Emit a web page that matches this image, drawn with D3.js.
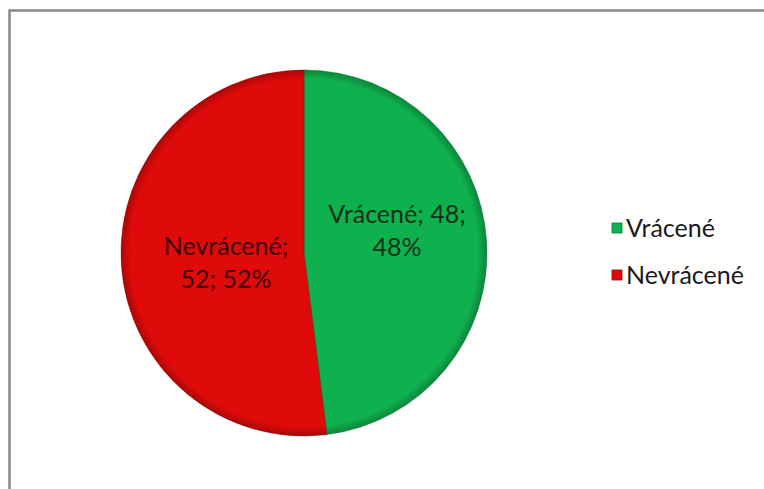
<!DOCTYPE html>
<html><head><meta charset="utf-8">
<script src="https://cdn.jsdelivr.net/npm/d3@7"></script>
<style>html,body{margin:0;background:#fff;overflow:hidden}svg{display:block}</style>
</head><body>
<svg id="c" width="764" height="489"></svg>
<script>
const categories = ["Vrácené", "Nevrácené"];
const values = [48, 52];
const percents = ["48%", "52%"];
const colors = ["#0FB14F", "#DF0A0A"];
const darkColors = ["#07803A", "#9A0000"];

const svg = d3.select("#c");
svg.append("path").attr("d", "M9.5,489V10.5H764")
  .attr("fill", "none").attr("stroke", "#878787").attr("stroke-width", 2.5);

const defs = svg.append("defs");
const cx = 304, cy = 253, r = 183;
const pie = d3.pie().sort(null).value(d => d)(values);
const arc = d3.arc().innerRadius(0).outerRadius(r);
const g = svg.append("g").attr("transform", `translate(${cx},${cy})`);

g.selectAll("path.s").data(pie).join("path").attr("class", "s")
  .attr("d", arc)
  .attr("fill", (d, i) => colors[i]);
const og = defs.append("radialGradient").attr("id", "edge").attr("gradientUnits", "userSpaceOnUse")
  .attr("cx", 0).attr("cy", 0).attr("r", r);
og.append("stop").attr("offset", "0%").attr("stop-color", "#000").attr("stop-opacity", 0);
og.append("stop").attr("offset", "95%").attr("stop-color", "#000").attr("stop-opacity", 0);
og.append("stop").attr("offset", "100%").attr("stop-color", "#000").attr("stop-opacity", 0.25);
g.append("circle").attr("r", r).attr("fill", "url(#edge)");
g.selectAll("path.b").data(pie).join("path").attr("class", "b")
  .attr("d", arc).attr("fill", "none").attr("stroke", (d, i) => darkColors[i])
  .attr("stroke-opacity", 0.5).attr("stroke-width", 1);

// labels
const labelPos = [[93, -30.5], [-78, 2]];
const labelLines = [
  [categories[0] + "; " + values[0] + ";", percents[0]],
  [categories[1] + ";", values[1] + "; " + percents[1]]
];
labelLines.forEach((lines, i) => {
  const t = g.append("text").attr("text-anchor", "middle")
    .attr("font-family", "Lato, 'Open Sans', sans-serif").attr("font-size", 25)
    .attr("fill", i === 0 ? "#06301a" : "#3a0000");
  lines.forEach((l, j) => {
    t.append("tspan").attr("x", labelPos[i][0]).attr("y", labelPos[i][1] + j * 33).text(l);
  });
});

// legend
const leg = svg.append("g").attr("transform", "translate(612,228)");
categories.forEach((c, i) => {
  const row = leg.append("g").attr("transform", `translate(0,${i * 47})`);
  row.append("rect").attr("x", 0).attr("y", -5).attr("width", 10).attr("height", 10)
    .attr("fill", colors[i]).attr("stroke", darkColors[i]).attr("stroke-width", 0.8);
  row.append("text").attr("x", 14).attr("y", 9).attr("font-family", "Lato, 'Open Sans', sans-serif")
    .attr("font-size", 25).attr("fill", "#1a1a1a").text(c);
});
</script>
</body></html>
